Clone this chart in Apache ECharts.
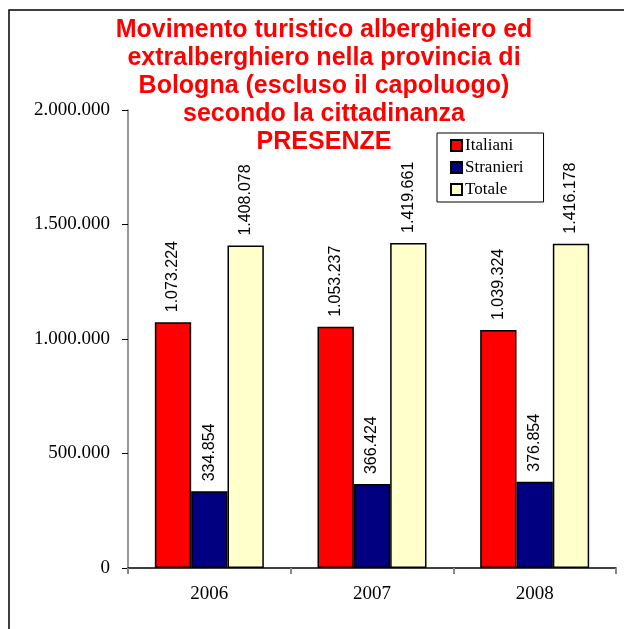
<!DOCTYPE html>
<html>
<head>
<meta charset="utf-8">
<script src="https://cdn.jsdelivr.net/npm/echarts@6/dist/echarts.min.js"></script>
<style>
  html, body { margin: 0; padding: 0; background: #fff; }
  #chart { width: 624px; height: 629px; }
</style>
</head>
<body>
<div id="chart"></div>
<script>
// Presenze per anno e cittadinanza
const anni = ['2006', '2007', '2008'];
const italiani = [1073224, 1053237, 1039324];
const stranieri = [334854, 366424, 376854];
const totale = [1408078, 1419661, 1416178];
const yTicks = { min: 0, max: 2000000, interval: 500000 };

const titolo = 'Movimento turistico alberghiero ed\nextralberghiero nella provincia di\nBologna (escluso il capoluogo)\nsecondo la cittadinanza\nPRESENZE';

// 1.234.567 style thousands separators
function fmt(v) {
  return String(v).replace(/\B(?=(\d{3})+(?!\d))/g, '.');
}

const labelStyle = {
  show: true,
  position: 'top',
  rotate: 90,
  align: 'left',
  verticalAlign: 'middle',
  distance: 2,
  padding: [2, 2, 2, 8],
  backgroundColor: '#ffffff',
  fontFamily: '"Liberation Sans", Arial, sans-serif',
  fontSize: 16,
  color: '#000',
  formatter: p => fmt(p.value)
};

function serie(name, data, color) {
  return {
    name: name,
    type: 'bar',
    data: data,
    barGap: '0%',
    barCategoryGap: '33%',
    itemStyle: { color: color, borderColor: '#000', borderWidth: 1.5 },
    label: labelStyle
  };
}

const chart = echarts.init(document.getElementById('chart'), null, { renderer: 'canvas' });
chart.setOption({
  animation: false,
  backgroundColor: '#fff',
  graphic: [{
    type: 'rect',
    shape: { x: 9, y: 10, width: 800, height: 800 },
    style: { fill: 'none', stroke: '#000', lineWidth: 1.5 },
    silent: true
  }],
  title: {
    text: titolo,
    left: 319,
    textAlign: 'center',
    top: 11,
    textStyle: {
      color: '#ff0000',
      fontFamily: '"Liberation Sans", Arial, sans-serif',
      fontWeight: 'bold',
      fontSize: 25,
      lineHeight: 28
    }
  },
  legend: {
    orient: 'vertical',
    left: 437,
    top: 133,
    padding: [4, 20, 4, 13],
    itemGap: 5,
    itemWidth: 11,
    itemHeight: 11,
    borderColor: '#000',
    borderWidth: 1,
    backgroundColor: '#fff',
    icon: 'rect',
    textStyle: {
      fontFamily: '"Liberation Serif", "Times New Roman", serif',
      fontSize: 17,
      color: '#000',
      padding: [0, 0, 0, -2]
    },
    data: ['Italiani', 'Stranieri', 'Totale']
  },
  grid: { left: 128, right: 8, top: 110, bottom: 61, containLabel: false },
  xAxis: {
    type: 'category',
    data: anni,
    axisLine: { lineStyle: { color: '#000', width: 1.5 } },
    axisTick: { show: true, length: 6, lineStyle: { color: '#888', width: 2 } },
    axisLabel: {
      margin: 17,
      fontFamily: '"Liberation Serif", "Times New Roman", serif',
      fontSize: 19,
      color: '#000'
    }
  },
  yAxis: {
    type: 'value',
    min: yTicks.min,
    max: yTicks.max,
    interval: yTicks.interval,
    axisLine: { show: true, lineStyle: { color: '#777', width: 1.5 } },
    axisTick: { show: true, length: 6, lineStyle: { color: '#000', width: 1 } },
    splitLine: { show: false },
    axisLabel: {
      margin: 18,
      fontFamily: '"Liberation Serif", "Times New Roman", serif',
      fontSize: 19,
      color: '#000',
      formatter: v => fmt(v)
    }
  },
  series: [
    serie('Italiani', italiani, '#ff0000'),
    serie('Stranieri', stranieri, '#000080'),
    serie('Totale', totale, '#ffffcc')
  ]
});
</script>
</body>
</html>
